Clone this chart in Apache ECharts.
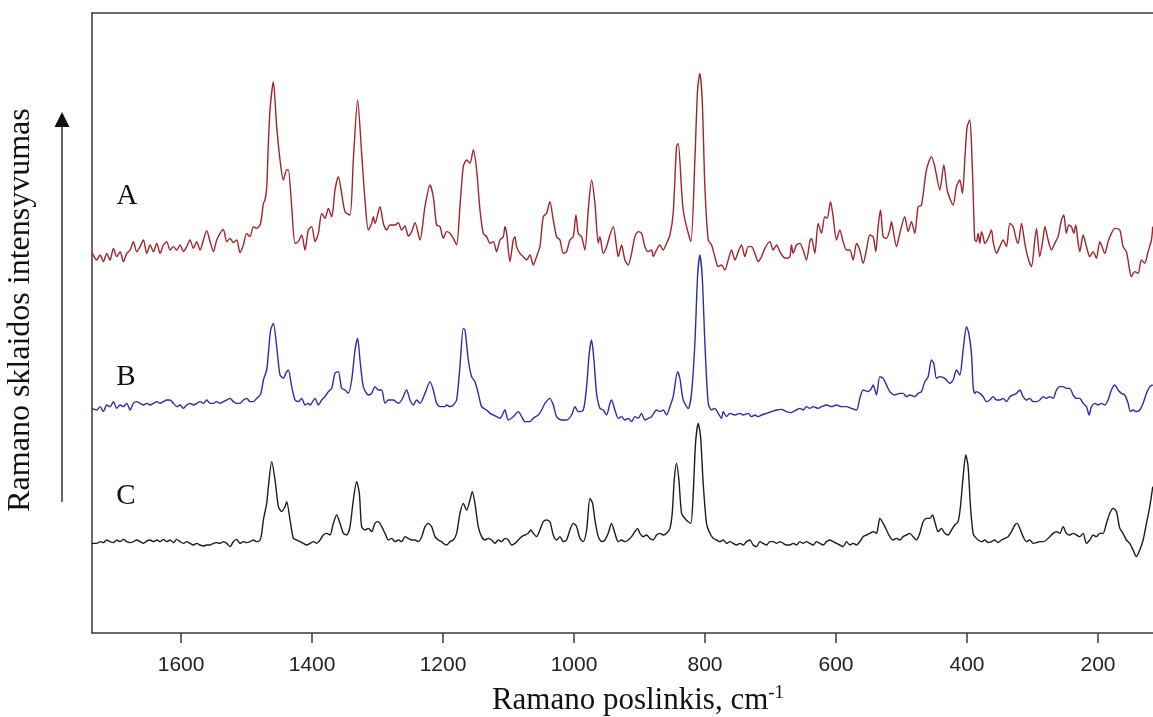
<!DOCTYPE html>
<html>
<head>
<meta charset="utf-8">
<title>Ramano spektrai</title>
<script src="https://cdn.jsdelivr.net/npm/echarts@6/dist/echarts.min.js"></script>
<style>
  html, body { margin: 0; padding: 0; background: #fff; }
  #chart-holder { width: 1153px; height: 717px; }
</style>
</head>
<body>
<div id="chart-holder"></div>
<script>
// x ticks (cm-1), axis runs right to left
const xTickLabels = [1600, 1400, 1200, 1000, 800, 600, 400, 200];
const spectrumNames = ['A', 'B', 'C'];

// [Raman shift cm-1, intensity (arb. units, offset per trace)]
const spectrumA = [
  [1736,1141],[1728.7,1119],[1723.6,1134],[1718.6,1114],[1713.5,1139],[1708.4,1119],[1703.3,1154],[1698.2,1129],[1693.1,1144],[1688.0,1114],
  [1682.9,1139],[1677.8,1149],[1672.8,1174],[1667.7,1144],[1662.6,1159],[1657.5,1179],[1652.4,1139],[1647.3,1164],[1642.2,1144],[1637.1,1169],
  [1632.1,1139],[1627.0,1164],[1621.9,1174],[1616.8,1149],[1611.7,1159],[1606.6,1149],[1601.5,1164],[1596.4,1144],[1591.4,1159],[1586.3,1179],
  [1581.2,1154],[1576.1,1174],[1571.0,1149],[1565.9,1179],[1560.8,1207],[1555.7,1174],[1550.7,1144],[1545.6,1179],[1540.5,1199],[1535.4,1211],
  [1530.3,1174],[1525.2,1184],[1520.1,1171],[1515.0,1179],[1510.0,1141],[1504.9,1164],[1499.8,1199],[1494.7,1189],[1489.6,1219],[1484.5,1214],
  [1479.4,1224],[1476.9,1249],[1474.3,1289],[1471.8,1299],[1469.2,1339],[1466.7,1469],[1464.2,1569],[1459.1,1654],[1454.0,1519],[1448.9,1419],
  [1443.8,1359],[1438.7,1389],[1436.2,1389],[1431.1,1279],[1426.0,1169],[1420.9,1174],[1415.8,1194],[1410.7,1149],[1405.7,1209],[1400.6,1219],
  [1395.5,1174],[1390.4,1199],[1385.3,1259],[1380.2,1244],[1375.1,1274],[1370.0,1249],[1367.5,1279],[1365.0,1329],[1359.9,1369],[1354.8,1319],
  [1349.7,1264],[1342.1,1254],[1337.0,1419],[1330.4,1599],[1324.3,1439],[1319.2,1299],[1314.1,1209],[1309.0,1229],[1306.5,1249],[1303.9,1229],
  [1296.3,1279],[1291.2,1229],[1286.1,1209],[1281.0,1224],[1273.4,1224],[1268.3,1231],[1263.2,1209],[1258.1,1221],[1253.0,1191],[1247.9,1204],
  [1242.8,1231],[1235.2,1179],[1227.6,1279],[1219.9,1344],[1214.9,1309],[1209.8,1224],[1204.7,1219],[1199.6,1184],[1194.5,1204],[1189.4,1199],
  [1184.3,1184],[1179.3,1164],[1174.2,1279],[1169.1,1399],[1164.0,1419],[1158.9,1409],[1153.8,1449],[1148.7,1389],[1143.6,1269],[1138.6,1199],
  [1133.5,1189],[1128.4,1169],[1123.3,1174],[1118.2,1144],[1113.1,1179],[1108.0,1189],[1105.5,1219],[1102.9,1199],[1097.9,1114],[1092.8,1179],
  [1090.2,1189],[1087.7,1159],[1082.6,1139],[1077.5,1129],[1072.4,1119],[1067.3,1134],[1062.2,1104],[1057.2,1129],[1052.1,1159],[1047.0,1249],
  [1041.9,1259],[1036.8,1294],[1031.7,1239],[1026.6,1189],[1021.5,1179],[1016.4,1139],[1011.4,1144],[1006.3,1179],[1001.2,1189],[997.1,1254],
  [993.5,1199],[988.5,1189],[983.4,1149],[978.3,1269],[973.2,1359],[968.1,1289],[963.0,1169],[960.5,1189],[955.4,1139],[950.3,1159],
  [945.2,1194],[940.1,1219],[935.1,1159],[932.5,1129],[927.4,1164],[922.3,1119],[917.2,1104],[912.2,1139],[907.1,1189],[902.0,1204],
  [896.9,1199],[891.8,1159],[886.7,1144],[881.6,1149],[879.1,1129],[874.0,1149],[868.9,1164],[863.8,1149],[858.7,1169],[853.6,1194],
  [848.6,1259],[843.5,1459],[840.9,1469],[835.8,1329],[833.3,1269],[828.2,1219],[821.6,1174],[815.5,1419],[811.4,1629],[807.9,1679],
  [804.3,1599],[800.2,1339],[795.1,1179],[790.0,1164],[785.0,1129],[779.9,1099],[774.8,1104],[769.7,1089],[764.6,1119],[759.5,1149],
  [754.4,1119],[749.3,1144],[744.3,1164],[739.2,1129],[734.1,1159],[729.0,1159],[723.9,1139],[718.8,1114],[713.7,1129],[708.6,1154],
  [701.0,1174],[695.9,1149],[690.8,1164],[685.7,1144],[680.7,1129],[675.6,1124],[670.5,1129],[668.0,1164],[665.4,1139],[660.3,1164],
  [655.2,1169],[650.2,1149],[645.1,1119],[640.0,1174],[637.4,1184],[632.3,1139],[627.3,1229],[622.2,1199],[617.1,1249],[613.5,1244],
  [608.4,1294],[604.4,1249],[599.3,1179],[594.2,1209],[589.1,1174],[584.0,1149],[578.9,1149],[573.8,1119],[568.7,1169],[563.7,1149],
  [558.6,1109],[553.5,1149],[548.4,1194],[543.3,1189],[539.2,1144],[535.7,1219],[532.1,1269],[528.0,1189],[522.9,1184],[517.9,1209],
  [515.3,1234],[512.8,1209],[507.7,1159],[502.6,1199],[495.0,1249],[489.9,1204],[484.8,1234],[479.7,1199],[474.6,1279],[469.5,1284],
  [461.9,1389],[454.3,1429],[449.2,1399],[441.5,1329],[435.4,1404],[430.3,1329],[425.3,1299],[421.2,1284],[416.1,1339],[411.0,1359],
  [406.9,1319],[403.4,1419],[399.8,1519],[395.8,1539],[393.2,1469],[390.6,1319],[388.1,1179],[385.5,1174],[383.0,1199],[380.4,1169],
  [377.9,1204],[375.3,1189],[372.8,1169],[367.7,1184],[362.6,1209],[360.1,1174],[355.0,1139],[349.9,1159],[344.8,1179],[339.7,1159],
  [334.6,1229],[329.6,1219],[324.5,1179],[321.9,1169],[316.8,1229],[311.7,1169],[306.7,1124],[301.6,1099],[296.5,1179],[293.9,1214],
  [288.9,1129],[283.8,1184],[281.2,1219],[276.1,1179],[271.0,1149],[266.0,1169],[260.9,1189],[255.8,1239],[252.2,1254],[248.2,1199],
  [244.6,1224],[240.5,1219],[237.0,1199],[233.9,1224],[230.3,1169],[227.8,1144],[222.7,1194],[217.6,1159],[212.5,1129],[207.4,1144],
  [202.4,1124],[197.3,1174],[194.7,1164],[189.6,1139],[184.6,1174],[179.5,1199],[174.4,1214],[166.7,1209],[161.7,1159],[156.6,1144],
  [152.5,1099],[149.0,1069],[143.9,1084],[138.8,1079],[133.7,1119],[128.6,1109],[123.5,1144],[118.4,1179],[116.4,1219]
];

const spectrumB = [
  [1736,674],[1728.7,669],[1723.6,679],[1718.6,664],[1713.5,684],[1708.4,679],[1703.3,694],[1698.2,674],[1693.1,684],[1688.0,679],
  [1682.9,689],[1677.8,669],[1672.8,689],[1667.7,694],[1662.6,689],[1657.5,684],[1652.4,689],[1647.3,684],[1642.2,689],[1637.1,694],
  [1632.1,689],[1627.0,694],[1621.9,699],[1616.8,699],[1611.7,689],[1606.6,679],[1601.5,684],[1596.4,674],[1591.4,684],[1586.3,689],
  [1581.2,684],[1576.1,689],[1571.0,694],[1565.9,689],[1560.8,699],[1555.7,689],[1550.7,689],[1545.6,694],[1540.5,689],[1535.4,694],
  [1530.3,699],[1525.2,704],[1520.1,694],[1515.0,689],[1510.0,689],[1504.9,699],[1499.8,704],[1494.7,694],[1489.6,694],[1484.5,704],
  [1479.4,714],[1476.9,729],[1474.3,759],[1469.3,789],[1466.7,839],[1463.2,909],[1459.1,929],[1454.0,859],[1448.9,774],[1443.8,764],
  [1440.2,779],[1436.2,789],[1431.1,739],[1426.0,699],[1420.9,694],[1415.8,704],[1410.7,684],[1405.7,689],[1403.1,684],[1395.5,704],
  [1390.4,684],[1385.3,699],[1380.2,709],[1375.1,724],[1370.0,734],[1365.0,779],[1359.9,784],[1354.8,734],[1349.7,729],[1344.6,719],
  [1339.5,759],[1334.4,849],[1330.4,884],[1326.8,819],[1321.7,739],[1314.1,714],[1309.0,719],[1303.9,739],[1298.8,729],[1293.7,729],
  [1288.6,689],[1283.5,699],[1275.9,699],[1268.3,689],[1263.2,699],[1255.6,729],[1250.5,699],[1245.4,684],[1240.3,699],[1235.2,689],
  [1227.6,719],[1219.9,754],[1214.9,729],[1209.8,689],[1204.7,679],[1197.1,679],[1194.5,684],[1189.4,679],[1184.3,684],[1179.3,699],
  [1174.2,799],[1169.1,914],[1166.5,909],[1161.4,819],[1156.4,769],[1151.3,754],[1146.2,719],[1141.1,679],[1133.5,669],[1128.4,659],
  [1123.3,654],[1118.2,649],[1113.1,644],[1105.5,669],[1100.4,639],[1092.8,649],[1085.1,664],[1080.0,649],[1075.0,634],[1067.3,634],
  [1062.2,644],[1054.6,654],[1049.5,669],[1044.4,689],[1036.8,704],[1031.7,684],[1026.6,649],[1019.0,639],[1011.4,639],[1003.7,654],
  [998.6,679],[993.5,664],[985.9,669],[980.8,739],[976.8,839],[973.2,879],[969.6,819],[965.6,719],[960.5,674],[955.4,669],
  [950.3,654],[945.2,689],[942.7,699],[937.6,669],[932.5,644],[927.4,649],[922.3,639],[917.2,644],[912.2,634],[907.1,649],
  [902.0,644],[896.9,659],[891.8,639],[886.7,644],[881.6,649],[874.0,669],[868.9,664],[863.8,669],[858.7,654],[853.6,679],
  [848.6,709],[841.9,784],[838.4,764],[833.3,699],[825.7,674],[820.6,719],[815.5,869],[811.4,1069],[807.9,1134],[804.3,1069],
  [800.2,869],[795.1,689],[790.0,669],[785.0,674],[779.9,659],[774.8,644],[772.2,664],[767.2,649],[762.1,659],[754.4,654],
  [746.8,659],[741.7,654],[734.1,659],[729.0,649],[723.9,654],[718.8,649],[713.7,654],[706.1,659],[698.5,664],[690.8,669],
  [683.2,671],[675.6,664],[668.0,661],[665.4,664],[660.3,669],[655.2,674],[650.2,669],[645.1,679],[640.0,674],[634.9,679],
  [627.3,674],[622.2,679],[614.5,684],[606.9,679],[599.3,684],[591.6,679],[584.0,679],[576.4,674],[568.7,669],[563.7,704],
  [558.6,729],[550.9,724],[545.8,734],[543.3,744],[538.2,714],[533.1,769],[528.0,764],[522.9,744],[517.9,724],[510.2,714],
  [502.6,719],[497.5,719],[492.4,709],[487.3,714],[479.7,709],[474.6,719],[469.5,724],[464.4,754],[459.3,769],[454.3,819],
  [450.7,809],[446.6,764],[441.5,769],[433.9,764],[426.3,749],[421.2,759],[416.1,789],[411.0,774],[405.9,849],[400.8,919],
  [397.3,900],[393.2,839],[390.6,739],[388.1,719],[385.5,724],[380.4,719],[375.3,709],[370.3,694],[365.2,699],[360.1,709],
  [355.0,699],[349.9,699],[344.8,704],[339.7,694],[334.6,709],[329.6,714],[324.5,719],[319.4,729],[314.3,709],[309.2,699],
  [304.1,704],[299.0,694],[293.9,694],[288.9,699],[283.8,709],[278.7,704],[273.6,709],[268.5,704],[263.4,729],[258.3,739],
  [253.2,739],[248.2,734],[243.1,734],[238.0,714],[232.9,704],[227.8,704],[222.7,689],[217.6,679],[213.5,654],[210.0,679],
  [204.9,689],[199.8,684],[194.7,689],[189.6,684],[184.6,699],[179.5,729],[174.4,744],[169.3,729],[164.2,719],[159.1,714],
  [154.0,689],[150.5,664],[146.4,669],[141.3,664],[136.2,669],[131.1,689],[126.0,719],[120.9,739],[116.4,744]
];

const spectrumC = [
  [1736,269],[1728.7,269],[1723.6,274],[1718.6,271],[1713.5,279],[1708.4,274],[1703.3,271],[1698.2,279],[1693.1,274],[1688.0,281],
  [1682.9,274],[1677.8,271],[1672.8,274],[1667.7,279],[1662.6,274],[1657.5,269],[1652.4,276],[1647.3,279],[1642.2,274],[1637.1,279],
  [1632.1,274],[1627.0,281],[1621.9,274],[1616.8,279],[1611.7,271],[1606.6,281],[1601.5,274],[1596.4,269],[1591.4,274],[1586.3,269],
  [1581.2,264],[1576.1,269],[1571.0,264],[1565.9,261],[1560.8,264],[1555.7,264],[1550.7,269],[1545.6,271],[1540.5,269],[1535.4,274],
  [1530.3,269],[1525.2,259],[1520.1,274],[1515.0,281],[1510.0,269],[1504.9,274],[1499.8,271],[1494.7,274],[1489.6,279],[1484.5,274],
  [1479.4,279],[1476.9,299],[1474.3,339],[1469.3,389],[1466.7,439],[1461.6,514],[1456.5,459],[1451.4,379],[1446.4,364],[1441.3,379],
  [1438.7,394],[1433.6,339],[1428.6,284],[1423.5,279],[1418.4,274],[1413.3,269],[1408.2,264],[1403.1,269],[1398.0,274],[1392.9,269],
  [1387.8,279],[1382.8,294],[1377.7,299],[1372.6,294],[1367.5,329],[1362.4,354],[1357.3,329],[1352.2,299],[1347.1,294],[1342.1,319],
  [1337.0,399],[1331.9,454],[1327.8,419],[1324.3,319],[1319.2,309],[1314.1,314],[1309.0,304],[1303.9,329],[1298.8,334],[1293.7,319],
  [1288.6,299],[1283.5,279],[1278.4,284],[1273.4,274],[1268.3,279],[1263.2,274],[1258.1,289],[1253.0,284],[1247.9,279],[1242.8,279],
  [1237.7,274],[1232.6,289],[1227.6,319],[1222.5,329],[1217.4,319],[1212.3,289],[1207.2,279],[1202.1,274],[1199.6,269],[1194.5,264],
  [1189.4,274],[1184.3,279],[1179.3,299],[1174.2,359],[1169.1,389],[1164.0,369],[1158.9,399],[1155.3,424],[1151.3,389],[1146.2,319],
  [1141.1,289],[1136.0,279],[1130.9,284],[1125.8,279],[1120.7,269],[1115.7,279],[1110.6,274],[1105.5,284],[1100.4,279],[1095.3,264],
  [1090.2,269],[1085.1,279],[1080.0,289],[1075.0,294],[1069.9,299],[1066.3,309],[1062.2,299],[1057.2,289],[1052.1,309],[1047.0,334],
  [1041.9,339],[1036.8,334],[1031.7,294],[1026.6,279],[1021.5,289],[1016.4,274],[1011.4,279],[1006.3,309],[1001.2,329],[996.1,319],
  [991.0,284],[985.9,274],[980.8,309],[975.7,404],[971.7,389],[968.1,339],[963.0,289],[957.9,274],[952.8,279],[947.8,299],
  [942.7,329],[937.6,299],[932.5,274],[927.4,279],[922.3,274],[917.2,279],[912.2,289],[907.1,304],[903.0,314],[899.4,299],
  [894.4,289],[889.3,294],[884.2,284],[879.1,279],[874.0,294],[868.9,299],[863.8,294],[858.7,299],[853.6,314],[850.1,359],
  [847.0,459],[843.5,509],[839.9,459],[835.8,359],[830.8,344],[825.7,334],[821.6,329],[818.0,419],[814.5,569],[810.4,629],
  [806.8,589],[802.8,449],[797.7,329],[792.6,299],[787.5,284],[782.4,279],[777.3,274],[772.2,279],[767.2,269],[762.1,274],
  [757.0,269],[751.9,264],[746.8,269],[741.7,264],[736.6,274],[731.5,279],[726.4,264],[721.4,259],[716.3,274],[711.2,269],
  [706.1,264],[701.0,274],[695.9,274],[690.8,269],[685.7,274],[680.7,269],[675.6,264],[670.5,264],[665.4,269],[660.3,264],
  [655.2,274],[650.2,269],[645.1,274],[640.0,269],[634.9,264],[629.8,274],[624.7,269],[619.6,264],[614.5,274],[609.5,279],
  [604.4,274],[599.3,269],[594.2,264],[589.1,259],[584.0,274],[578.9,264],[573.8,269],[568.7,264],[563.7,274],[558.6,289],
  [553.5,294],[548.4,299],[543.3,304],[538.2,299],[535.7,319],[533.1,344],[528.0,329],[522.9,309],[517.9,289],[512.8,279],
  [507.7,284],[502.6,279],[497.5,289],[492.4,294],[487.3,299],[482.2,289],[477.2,279],[472.1,299],[467.0,334],[461.9,344],
  [456.8,344],[452.7,354],[449.2,334],[444.1,304],[439.0,314],[433.9,299],[428.8,294],[423.7,309],[418.6,324],[413.6,334],
  [410.0,379],[405.9,469],[401.9,534],[398.3,499],[394.7,379],[390.7,299],[388.1,289],[383.0,279],[377.9,274],[372.8,279],
  [367.7,271],[362.6,274],[357.5,279],[352.5,271],[347.4,279],[342.3,284],[337.2,289],[332.1,304],[327.0,324],[323.5,329],
  [319.4,314],[314.3,289],[309.2,274],[304.1,279],[299.0,269],[293.9,271],[288.9,274],[283.8,274],[278.7,279],[273.6,289],
  [268.5,299],[263.4,304],[258.3,299],[253.2,319],[248.2,299],[243.1,294],[238.0,299],[232.9,294],[227.8,289],[222.7,299],
  [217.6,269],[212.5,279],[207.4,294],[202.4,289],[197.3,299],[192.2,299],[187.1,329],[182.0,359],[176.9,374],[171.8,364],
  [166.7,314],[161.7,299],[156.6,279],[151.5,269],[146.4,249],[141.3,229],[136.2,249],[131.1,279],[126.0,329],[120.9,379],
  [116.4,439]
];

const seriesColors = ['#a3232a', '#2b2bad', '#1c1c1c'];

function buildSeries(name, data, color) {
  return {
    name: name,
    type: 'line',
    data: data,
    showSymbol: false,
    smooth: 0.25,
    lineStyle: { color: color, width: 1.4 },
    silent: true
  };
}

function drawSpectra(chartHolder) {
  const chart = echarts.init(chartHolder, null, { renderer: 'canvas' });
  const serif = '"Liberation Serif", "Times New Roman", serif';
  const frameLine = { color: '#3a3a3a', width: 1.5 };

  const option = {
    animation: false,
    backgroundColor: '#fff',
    grid: { left: 92, right: 0, top: 13, bottom: 84 },
    xAxis: [
      {
        type: 'value',
        inverse: true,
        min: 116,
        max: 1736,
        axisLine: { show: true, lineStyle: frameLine },
        axisTick: {
          show: true, inside: false, length: 10,
          customValues: xTickLabels,
          lineStyle: frameLine
        },
        axisLabel: {
          customValues: xTickLabels,
          formatter: (v) => String(v),
          margin: 22,
          fontSize: 21,
          fontFamily: '"Liberation Sans", Arial, sans-serif',
          color: '#222'
        },
        splitLine: { show: false }
      },
      {
        // top frame line only
        type: 'value',
        position: 'top',
        inverse: true,
        min: 116,
        max: 1736,
        axisLine: { show: true, lineStyle: frameLine },
        axisTick: { show: false },
        axisLabel: { show: false },
        splitLine: { show: false }
      }
    ],
    yAxis: {
      type: 'value',
      min: 0,
      max: 1860,
      axisLine: { show: true, lineStyle: frameLine },
      axisTick: { show: false },
      axisLabel: { show: false },
      splitLine: { show: false }
    },
    series: [
      buildSeries(spectrumNames[0], spectrumA, seriesColors[0]),
      buildSeries(spectrumNames[1], spectrumB, seriesColors[1]),
      buildSeries(spectrumNames[2], spectrumC, seriesColors[2])
    ],
    graphic: [
      // intensity arrow
      { type: 'line', shape: { x1: 62, y1: 124, x2: 62, y2: 502 }, style: { stroke: '#111', lineWidth: 1.3 } },
      { type: 'polygon', shape: { points: [[62, 112], [54.5, 127], [69.5, 127]] }, style: { fill: '#111' } },
      {
        type: 'text', x: 21, y: 310, rotation: Math.PI / 2,
        style: { text: 'Ramano sklaidos intensyvumas', font: '32px ' + serif, fill: '#111', align: 'center', verticalAlign: 'middle' }
      },
      {
        type: 'text', x: 638, y: 701,
        style: {
          text: '{m|Ramano poslinkis, cm}{s|-1}',
          align: 'center', verticalAlign: 'middle',
          rich: {
            m: { fontSize: 31, fontFamily: serif, fill: '#111', color: '#111' },
            s: { fontSize: 19, fontFamily: serif, fill: '#111', color: '#111', verticalAlign: 'top', padding: [0, 0, 16, 0] }
          }
        }
      },
      { type: 'text', x: 127, y: 196, style: { text: spectrumNames[0], font: '29px ' + serif, fill: '#111', align: 'center', verticalAlign: 'middle' } },
      { type: 'text', x: 126, y: 377, style: { text: spectrumNames[1], font: '29px ' + serif, fill: '#111', align: 'center', verticalAlign: 'middle' } },
      { type: 'text', x: 126, y: 496, style: { text: spectrumNames[2], font: '29px ' + serif, fill: '#111', align: 'center', verticalAlign: 'middle' } }
    ]
  };

  chart.setOption(option);
}

drawSpectra(document.getElementById('chart-holder'));
</script>
</body>
</html>
